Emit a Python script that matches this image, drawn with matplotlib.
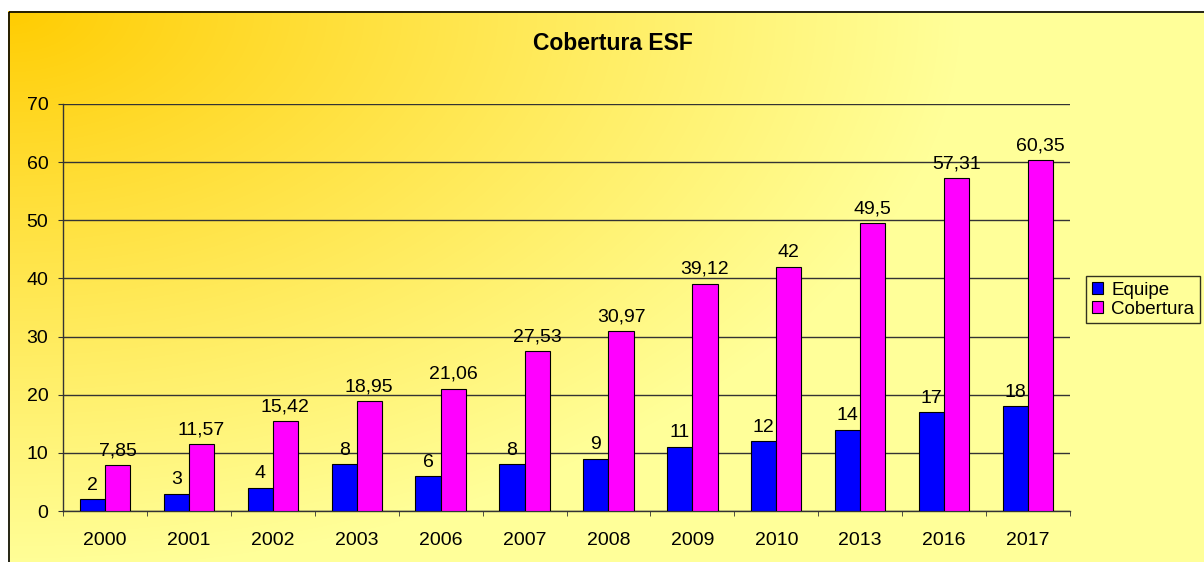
import matplotlib.pyplot as plt
import numpy as np
from matplotlib.patches import Rectangle

years = ["2000", "2001", "2002", "2003", "2006", "2007", "2008",
         "2009", "2010", "2013", "2016", "2017"]
equipe = [2, 3, 4, 8, 6, 8, 9, 11, 12, 14, 17, 18]
cobertura = [7.85, 11.57, 15.42, 18.95, 21.06, 27.53, 30.97,
             39.12, 42, 49.5, 57.31, 60.35]

plt.rcParams["font.family"] = ["Liberation Sans", "DejaVu Sans"]

W, H = 1204, 562
fig = plt.figure(figsize=(W / 100, H / 100), dpi=100)

# background gradient: orange top-left -> pale yellow
bg = fig.add_axes([0, 0, 1, 1], zorder=-10)
bg.set_axis_off()
yy, xx = np.mgrid[0:H, 0:W]
d = np.sqrt(((xx - 10) / 950.0) ** 2 + ((yy - 10) / 560.0) ** 2)
t = np.clip(d, 0, 1) ** 0.9
c0 = np.array([1.0, 0.80, 0.0])
c1 = np.array([1.0, 1.0, 0.60])
img = c0[None, None, :] * (1 - t[..., None]) + c1[None, None, :] * t[..., None]
img[:11, :, :] = 1.0
img[:, :8, :] = 1.0
bg.imshow(img, extent=[0, W, H, 0], aspect="auto")
bg.add_patch(Rectangle((8.5, 11.5), W + 10, H + 10, fill=False,
                       edgecolor="black", linewidth=1.2))
bg.set_xlim(0, W)
bg.set_ylim(H, 0)

ax = fig.add_axes([63 / W, 1 - 511 / H, (1070 - 63) / W, (511 - 104) / H])
ax.patch.set_alpha(0)

x = np.arange(len(years))
bw = 0.3
b1 = ax.bar(x - bw / 2, equipe, bw, color="#0000FF", edgecolor="black",
            linewidth=0.8, label="Equipe", zorder=3)
b2 = ax.bar(x + bw / 2, cobertura, bw, color="#FF00FF", edgecolor="black",
            linewidth=0.8, label="Cobertura", zorder=3)

for rect, v in zip(b1, equipe):
    ax.annotate(str(v), (rect.get_x() + rect.get_width() / 2, v),
                xytext=(0, 4), textcoords="offset points", ha="center",
                va="bottom", fontsize=14, zorder=4)
for rect, v in zip(b2, cobertura):
    ax.annotate(f"{v:g}".replace(".", ","),
                (rect.get_x() + rect.get_width() / 2, v),
                xytext=(0, 4), textcoords="offset points", ha="center",
                va="bottom", fontsize=14, zorder=4)

ax.set_xlim(-0.5, len(years) - 0.5)
ax.set_ylim(0, 70)
ax.set_yticks(range(0, 71, 10))
ax.yaxis.grid(True, color="#333333", linewidth=1.0, zorder=1)
ax.set_xticks(x)
ax.set_xticklabels(years)
ax.set_xticks(np.arange(-0.5, len(years), 1), minor=True)
ax.tick_params(axis="x", which="major", length=0, pad=15, labelsize=14)
ax.tick_params(axis="x", which="minor", length=3.6, direction="out",
               color="#333333")
ax.tick_params(axis="y", length=3.6, direction="out", labelsize=14,
               color="#333333", pad=7)
for s in ("top", "right"):
    ax.spines[s].set_visible(False)
for s in ("left", "bottom"):
    ax.spines[s].set_color("#333333")
    ax.spines[s].set_linewidth(1.0)

fig.text(613 / W, 1 - 43 / H, "Cobertura ESF", ha="center", va="center",
         fontsize=16.5, fontweight="bold")

leg = fig.legend(handles=[b1, b2], labels=["Equipe", "Cobertura"],
                 loc="upper left", bbox_to_anchor=(1086 / W, 1 - 276 / H),
                 frameon=True, fontsize=13.5, handlelength=0.6,
                 handleheight=0.6, handletextpad=0.45, borderpad=0.3,
                 labelspacing=0.1, borderaxespad=0)
leg.get_frame().set_edgecolor("black")
leg.get_frame().set_facecolor("none")
leg.get_frame().set_linewidth(1.0)
leg.get_frame().set_boxstyle("square", pad=0)

fig.savefig("out.png", dpi=100)
